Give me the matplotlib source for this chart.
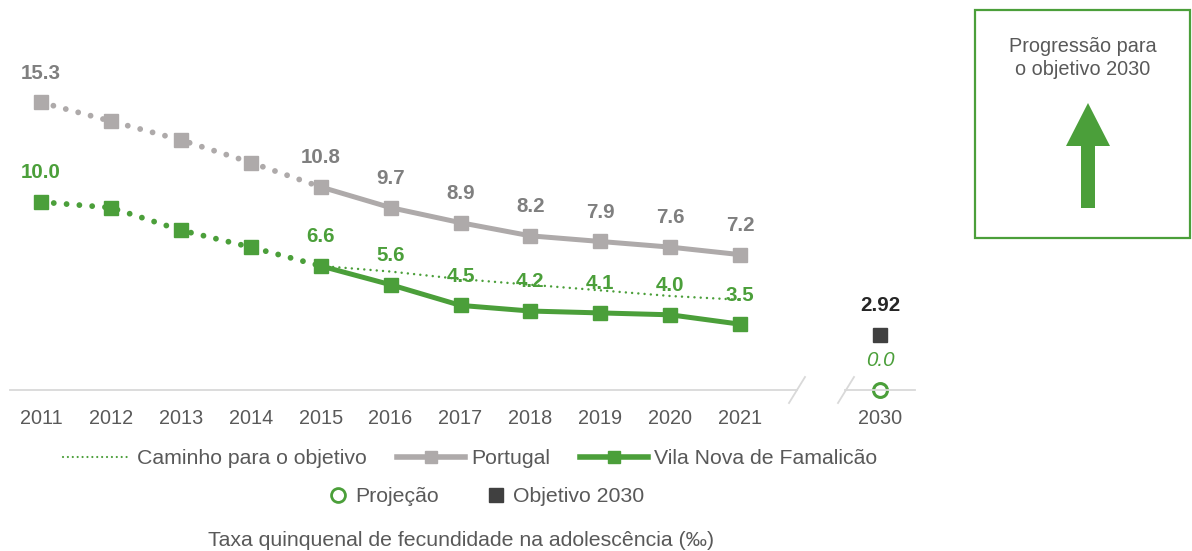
import matplotlib
matplotlib.use("Agg")
import matplotlib.pyplot as plt
from matplotlib.lines import Line2D
from matplotlib.patches import Rectangle, Polygon

plt.rcParams['font.family'] = ['Liberation Sans', 'DejaVu Sans']

# ---- data ----
years = ["2011", "2012", "2013", "2014", "2015", "2016", "2017", "2018", "2019", "2020", "2021"]
portugal = [15.3, 14.3, 13.3, 12.1, 10.8, 9.7, 8.9, 8.2, 7.9, 7.6, 7.2]
vnf = [10.0, 9.7, 8.5, 7.6, 6.6, 5.6, 4.5, 4.2, 4.1, 4.0, 3.5]
path_years = ["2015", "2016", "2017", "2018", "2019", "2020", "2021"]
path_values = [6.6, 6.3, 5.9, 5.6, 5.3, 5.0, 4.8]
labelled_years = ["2011", "2015", "2016", "2017", "2018", "2019", "2020", "2021"]
target_year = "2030"
projection_2030 = 0.0
objective_2030 = 2.92

GREEN = "#4B9F3A"
GRAY = "#AEAAAA"
GRAY_TXT = "#7F7F7F"
DARK = "#404040"
TXT = "#595959"
AXIS = "#D9D9D9"

W, H = 1192, 551
fig = plt.figure(figsize=(W / 100, H / 100), dpi=100)

def fx(px):
    return px / W

def fy(py):
    return 1 - py / H

ax = fig.add_axes([fx(10), fy(390), fx(905), 350 / H])
ax.set_ylim(0, 350 / 18.8)

# category positions: years 0..10, gap, 2030 at 12
pos = {y: i for i, y in enumerate(years)}
pos[target_year] = len(years) + 1
ax.set_xlim(-0.443, 12.5)

x_all = [pos[y] for y in years]
split = years.index("2015")

dot_style = (0, (0.001, 2.2))
# Portugal
ax.plot(x_all[:split + 1], portugal[:split + 1], color=GRAY, lw=4.2,
        linestyle=dot_style, dash_capstyle='round', zorder=2)
ax.plot(x_all[split:], portugal[split:], color=GRAY, lw=3.6,
        solid_capstyle='round', solid_joinstyle='round', zorder=2)
ax.plot(x_all, portugal, linestyle='none', marker='s', ms=9.5, color=GRAY, zorder=3)

# VNF
ax.plot(x_all[:split + 1], vnf[:split + 1], color=GREEN, lw=4.2,
        linestyle=dot_style, dash_capstyle='round', zorder=2)
ax.plot(x_all[split:], vnf[split:], color=GREEN, lw=3.6,
        solid_capstyle='round', solid_joinstyle='round', zorder=2)
ax.plot(x_all, vnf, linestyle='none', marker='s', ms=9.5, color=GREEN, zorder=3)

# Path to objective
ax.plot([pos[y] for y in path_years], path_values, color=GREEN, lw=1.8,
        linestyle=(0, (0.001, 2.5)), dash_capstyle='round', zorder=2)

# data labels
for y in labelled_years:
    i = pos[y]
    ax.annotate(f"{portugal[i]:.1f}", (i, portugal[i]), xytext=(0, 21),
                textcoords='offset points', ha='center', va='center',
                fontsize=14.8, fontweight='bold', color=GRAY_TXT, zorder=5)
    ax.annotate(f"{vnf[i]:.1f}", (i, vnf[i]), xytext=(0, 21),
                textcoords='offset points', ha='center', va='center',
                fontsize=14.8, fontweight='bold', color=GREEN, zorder=5)

# 2030 points
xt = pos[target_year]
ax.plot([xt], [objective_2030], linestyle='none', marker='s', ms=9.5, color=DARK, zorder=4)
ax.annotate(f"{objective_2030:.2f}", (xt, objective_2030), xytext=(0, 21),
            textcoords='offset points', ha='center', va='center',
            fontsize=14.8, fontweight='bold', color="#262626")
ax.plot([xt], [projection_2030], linestyle='none', marker='o', ms=10,
        markerfacecolor='white', markeredgecolor=GREEN, markeredgewidth=2.2,
        zorder=5, clip_on=False)
ax.annotate(f"{projection_2030:.1f}", (xt, projection_2030), xytext=(0, 21),
            textcoords='offset points', ha='center', va='center',
            fontsize=14.8, fontstyle='italic', color=GREEN)

# axes styling
for s in ax.spines.values():
    s.set_visible(False)
ax.set_yticks([])
ax.set_xticks(x_all + [xt])
ax.set_xticklabels(years + [target_year], fontsize=14.3, color=TXT)
ax.tick_params(axis='x', length=0, pad=14)

# broken baseline (figure pixel coords)
def fline(xs, ys, **kw):
    fig.add_artist(Line2D([fx(v) for v in xs], [fy(v) for v in ys],
                          transform=fig.transFigure, **kw))

fline([10, 797], [390, 390], color=AXIS, lw=1.3, zorder=1)
fline([845, 915], [390, 390], color=AXIS, lw=1.3, zorder=1)
fline([789, 805], [403, 377], color=AXIS, lw=1.3)
fline([838, 854], [403, 377], color=AXIS, lw=1.3)

# legends
h1 = [
    Line2D([], [], color=GREEN, lw=1.6, linestyle=(0, (0.001, 2.2)), dash_capstyle='round'),
    Line2D([], [], color=GRAY, lw=4, marker='s', ms=8),
    Line2D([], [], color=GREEN, lw=4, marker='s', ms=8),
]
fig.legend(h1, ["Caminho para o objetivo", "Portugal", "Vila Nova de Famalicão"],
           loc='center', bbox_to_anchor=(fx(470), fy(459)), ncol=3, frameon=False,
           fontsize=15.3, handlelength=3.2, handletextpad=0.3, columnspacing=1.4,
           labelcolor=TXT)
h2 = [
    Line2D([], [], linestyle='none', marker='o', ms=10, markerfacecolor='white',
           markeredgecolor=GREEN, markeredgewidth=2),
    Line2D([], [], linestyle='none', marker='s', ms=10, color=DARK),
]
fig.legend(h2, ["Projeção", "Objetivo 2030"], loc='center',
           bbox_to_anchor=(fx(486), fy(497)), ncol=2, frameon=False, fontsize=15.3,
           handlelength=1.0, handletextpad=0.3, columnspacing=2.2, labelcolor=TXT)

fig.text(fx(461), fy(541), "Taxa quinquenal de fecundidade na adolescência (‰)",
         ha='center', va='center', fontsize=15.3, color=TXT)

# right box
fig.add_artist(Rectangle((fx(975), fy(238)), fx(215), (238 - 10) / H,
                         transform=fig.transFigure, fill=False,
                         edgecolor=GREEN, lw=1.6))
fig.text(fx(1083), fy(58), "Progressão para\no objetivo 2030", ha='center',
         va='center', fontsize=14.3, color=TXT, linespacing=1.25)
arrow = [(1081, 208), (1095, 208), (1095, 146), (1110, 146), (1088, 103),
         (1066, 146), (1081, 146)]
fig.add_artist(Polygon([(fx(a), fy(b)) for a, b in arrow], closed=True,
                       transform=fig.transFigure, facecolor=GREEN, edgecolor='none'))

fig.savefig("out.png", dpi=100)
